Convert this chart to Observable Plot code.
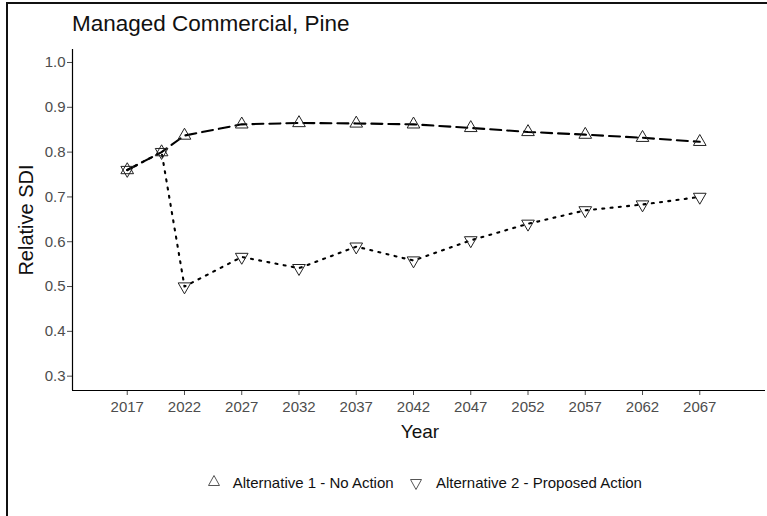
<!DOCTYPE html>
<html>
<head>
<meta charset="utf-8">
<script src="https://cdn.jsdelivr.net/npm/d3@7"></script>
<script src="https://cdn.jsdelivr.net/npm/@observablehq/plot@0.6"></script>
<style>
  html, body { margin: 0; padding: 0; background: #fff; }
  #wrap {
    position: relative; width: 767px; height: 516px; overflow: hidden;
    background: #fff; font-family: "Liberation Sans", Arial, sans-serif; color: #111;
  }
  #frame {
    position: absolute; left: 6px; top: 2px; width: 900px; height: 700px;
    border-left: 2px solid #111; border-top: 2px solid #111;
  }
  #plot { position: absolute; left: 0; top: 0; }
  .title {
    position: absolute; left: 72px; top: 12.6px; font-size: 22.5px; line-height: 22.5px;
    white-space: nowrap; color: #111;
  }
  .ylab {
    position: absolute; left: 26px; top: 219.5px; font-size: 20px; line-height: 20px;
    white-space: nowrap; transform: translate(-50%, -50%) rotate(-90deg); color: #111;
  }
  .xlab {
    position: absolute; left: 420px; top: 421.7px; font-size: 19px; line-height: 19px;
    white-space: nowrap; transform: translateX(-50%); color: #111;
  }
  .legtext {
    position: absolute; top: 474.6px; font-size: 15px; line-height: 15px;
    white-space: nowrap; color: #111;
  }
  .legsym { position: absolute; overflow: visible; }
</style>
</head>
<body>
<div id="wrap">
  <div id="frame"></div>
  <div id="plot"></div>
  <div class="title" id="title"></div>
  <div class="ylab" id="ylab"></div>
  <div class="xlab" id="xlab"></div>
  <div id="legend"></div>
</div>
<script>
// Relative stand density index by projection year, for each management alternative
const chartTitle = "Managed Commercial, Pine";
const xLabel = "Year";
const yLabel = "Relative SDI";
const seriesNames = ["Alternative 1 - No Action", "Alternative 2 - Proposed Action"];

const years = [2017, 2020, 2022, 2027, 2032, 2037, 2042, 2047, 2052, 2057, 2062, 2067];
const alt1NoAction = [0.76, 0.80, 0.837, 0.862, 0.865, 0.864, 0.862, 0.854, 0.845, 0.839, 0.832, 0.823];
const alt2Proposed = [0.76, 0.80, 0.50, 0.566, 0.541, 0.589, 0.558, 0.603, 0.640, 0.670, 0.683, 0.700];

const xTicks = [2017, 2022, 2027, 2032, 2037, 2042, 2047, 2052, 2057, 2062, 2067];
const yTicks = [0.3, 0.4, 0.5, 0.6, 0.7, 0.8, 0.9, 1.0];

const rows1 = years.map((year, i) => ({year, sdi: alt1NoAction[i], series: seriesNames[0]}));
const rows2 = years.map((year, i) => ({year, sdi: alt2Proposed[i], series: seriesNames[1]}));

const xDomain = [2012.22, 2072.74];
const yDomain = [0.268, 1.029];

const chart = Plot.plot({
  width: 767,
  height: 516,
  marginLeft: 72,
  marginRight: 2,
  marginTop: 49,
  marginBottom: 126,
  style: {
    background: "transparent",
    fontFamily: "'Liberation Sans', Arial, sans-serif",
    fontSize: "15px",
    color: "#4d4d4d"
  },
  x: {domain: xDomain, ticks: xTicks, tickFormat: d => String(d), tickSize: 5, tickPadding: 6, label: null},
  y: {domain: yDomain, ticks: yTicks, tickFormat: d => d.toFixed(1), tickSize: 5, tickPadding: 2, label: null},
  marks: [
    // axis lines
    Plot.ruleX([xDomain[0]], {stroke: "#000", strokeWidth: 1.2}),
    Plot.ruleY([yDomain[0]], {stroke: "#000", strokeWidth: 1.2}),
    // series lines
    Plot.line(rows1, {x: "year", y: "sdi", stroke: "#000", strokeWidth: 2.1, strokeDasharray: "11,6"}),
    Plot.line(rows2, {x: "year", y: "sdi", stroke: "#000", strokeWidth: 2.1, strokeDasharray: "2,6.3"}),
    // hollow triangle markers
    Plot.dot(rows1, {x: "year", y: "sdi", symbol: "triangle", r: 4.7, fill: "none", stroke: "#222", strokeWidth: 1}),
    Plot.dot(rows2, {x: "year", y: "sdi", symbol: "triangle", rotate: 180, r: 4.7, fill: "none", stroke: "#222", strokeWidth: 1})
  ]
});
document.getElementById("plot").appendChild(chart);

document.getElementById("title").textContent = chartTitle;
document.getElementById("ylab").textContent = yLabel;
document.getElementById("xlab").textContent = xLabel;

// legend: symbol + label for each alternative
const legend = document.getElementById("legend");
const legendItems = [
  {name: seriesNames[0], path: "M6,0.5 L11.5,10.5 L0.5,10.5 Z", symLeft: 207.5, symTop: 474.5, textLeft: 232.7},
  {name: seriesNames[1], path: "M0.5,0.5 L11.5,0.5 L6,10.5 Z", symLeft: 410, symTop: 478.8, textLeft: 436}
];
for (const item of legendItems) {
  const svg = d3.create("svg")
    .attr("class", "legsym")
    .attr("width", 12).attr("height", 11)
    .style("left", item.symLeft + "px").style("top", item.symTop + "px");
  svg.append("path").attr("d", item.path).attr("fill", "none").attr("stroke", "#555").attr("stroke-width", 1);
  legend.appendChild(svg.node());
  const t = document.createElement("div");
  t.className = "legtext";
  t.style.left = item.textLeft + "px";
  t.textContent = item.name;
  legend.appendChild(t);
}
</script>
</body>
</html>
